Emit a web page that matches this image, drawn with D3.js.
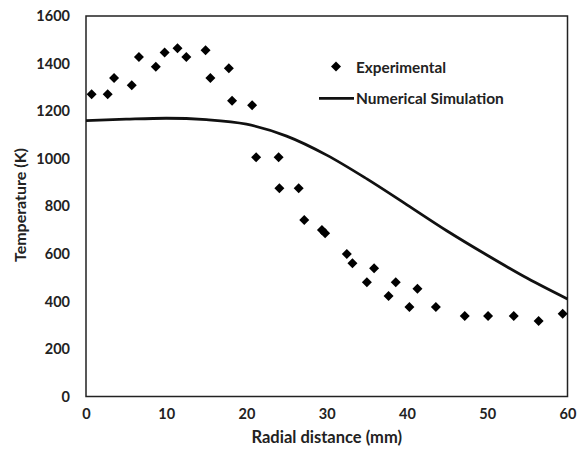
<!DOCTYPE html>
<html><head><meta charset="utf-8">
<script src="https://cdn.jsdelivr.net/npm/d3@7"></script>
<style>body{margin:0;background:#fff}svg{display:block}text{font-family:Lato,"Open Sans",sans-serif;font-weight:bold;fill:#222}</style>
</head><body><svg id="c" width="577" height="454"></svg>
<script>
const expX = [0.7,2.7,3.5,5.7,6.6,8.7,9.8,11.4,12.5,14.9,15.5,17.8,18.2,20.7,21.2,24.0,24.1,26.5,27.2,29.4,29.8,32.5,33.2,35.9,35.0,38.6,37.7,41.3,40.3,43.6,47.2,50.1,53.3,56.4,59.4];
const expY = [1271,1271,1339,1309,1428,1387,1447,1464,1428,1456,1339,1380,1244,1225,1006,1006,876,876,742,700,686,599,560,539,480,480,423,453,376,376,338,338,338,317,348];
const simX = [0,5,10,15,20,25,30,35,40,45,50,55,60];
const simY = [1160,1166,1170,1164,1145,1095,1015,915,806,696,594,497,410];
const xTicks = [0,10,20,30,40,50,60];
const yTicks = [0,200,400,600,800,1000,1200,1400,1600];

const svg = d3.select("#c");
const L=86,R=567.5,T=16,B=396.5;
const x = d3.scaleLinear().domain([0,60]).range([L,R]);
const y = d3.scaleLinear().domain([0,1600]).range([B,T]);

svg.append("rect").attr("x",L).attr("y",T).attr("width",R-L).attr("height",B-T)
  .attr("fill","none").attr("stroke","#222").attr("stroke-width",1.5);

const xa = svg.append("g").attr("transform",`translate(0,${B})`)
  .call(d3.axisBottom(x).tickValues(xTicks).tickFormat(d3.format("d")).tickSize(0).tickPadding(12));
xa.select(".domain").remove();
xa.selectAll("text").attr("font-size",14.5).style("font-family","Lato,'Open Sans',sans-serif").style("font-weight","bold").attr("fill","#222");

const ya = svg.append("g").attr("transform",`translate(${L},0)`)
  .call(d3.axisLeft(y).tickValues(yTicks).tickFormat(d3.format("d")).tickSize(0).tickPadding(16));
ya.select(".domain").remove();
ya.selectAll("text").attr("font-size",14.5).style("font-family","Lato,'Open Sans',sans-serif").style("font-weight","bold").attr("fill","#222");

svg.append("text").attr("x",(L+R)/2).attr("y",443).attr("text-anchor","middle").attr("font-size",16.5).text("Radial distance (mm)");
svg.append("text").attr("transform",`translate(26,205) rotate(-90)`).attr("text-anchor","middle").attr("font-size",16).text("Temperature (K)");

const line = d3.line().x((d,i)=>x(simX[i])).y(d=>y(d)).curve(d3.curveMonotoneX);
svg.append("path").attr("d",line(simY)).attr("fill","none").attr("stroke","#111").attr("stroke-width",2.8);

const sym = d3.symbol(d3.symbolSquare,50);
svg.append("g").selectAll("path").data(expY).join("path")
  .attr("d",sym).attr("transform",(d,i)=>`translate(${x(expX[i])},${y(d)}) rotate(45)`).attr("fill","#000");

// legend
svg.append("path").attr("d",sym).attr("transform","translate(336,66.5) rotate(45)").attr("fill","#000");
svg.append("text").attr("x",356).attr("y",72.5).attr("font-size",15.3).text("Experimental");
svg.append("line").attr("x1",319).attr("x2",354).attr("y1",98.3).attr("y2",98.3).attr("stroke","#111").attr("stroke-width",2.8);
svg.append("text").attr("x",356).attr("y",104).attr("font-size",15.5).text("Numerical Simulation");
</script></body></html>
